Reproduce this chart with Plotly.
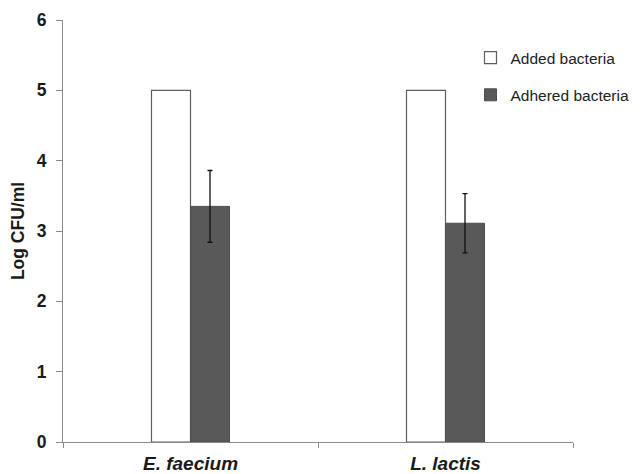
import plotly.graph_objects as go

categories = ["E. faecium", "L. lactis"]
tick_labels = ["<b><i>E. faecium</i></b>", "<b><i>L. lactis</i></b>"]
added = [5.0, 5.0]
adhered = [3.35, 3.11]
adhered_err = [0.51, 0.42]
y_ticks = [0, 1, 2, 3, 4, 5, 6]

fig = go.Figure()
fig.add_trace(go.Bar(
    x=categories, y=added, name="Added bacteria", legendgroup="a",
    marker=dict(color="white", line=dict(color="#5e5e5e", width=1.2)),
))
fig.add_trace(go.Bar(
    x=categories, y=adhered, name="Adhered bacteria", legendgroup="b",
    marker=dict(color="#595959", line=dict(color="#4d4d4d", width=1)),
    error_y=dict(type="data", array=adhered_err, color="#111111", thickness=1.3, width=2.5),
))

# page body has an 8px default margin, so the figure is sized/offset to compensate
fig.update_layout(
    width=633, height=466,
    margin=dict(l=55, r=68, t=12, b=32, autoexpand=False),
    paper_bgcolor="white", plot_bgcolor="white",
    barmode="group", bargap=0.694, bargroupgap=0,
    font=dict(family="Liberation Sans, Arial", color="#1a1a1a"),
    legend=dict(x=0.799, y=0.95, xanchor="left", yanchor="top",
                font=dict(size=15.5, color="#222"), tracegroupgap=14,
                itemwidth=30, bgcolor="rgba(0,0,0,0)"),
    showlegend=True,
)
fig.update_yaxes(
    range=[0, 6], tickvals=y_ticks, ticktext=[f"<b>{v}</b>" for v in y_ticks],
    showline=True, linecolor="#8a8a8a", linewidth=1,
    ticks="outside", ticklen=6, tickcolor="#8a8a8a", ticklabelstandoff=6,
    showgrid=False, zeroline=False, automargin=False,
    tickfont=dict(size=17.5, color="#1a1a1a"),
    title=dict(text="<b>Log CFU/ml</b>", font=dict(size=17.5, color="#1a1a1a"), standoff=9),
)
fig.update_xaxes(
    showline=True, linecolor="#8a8a8a", linewidth=1,
    ticks="outside", ticklen=5, tickcolor="#8a8a8a", tickson="boundaries",
    showgrid=False, automargin=False, ticklabelstandoff=4,
    tickfont=dict(size=19, color="#1a1a1a"),
    tickvals=categories, ticktext=tick_labels,
)

fig.write_html("out.html")
